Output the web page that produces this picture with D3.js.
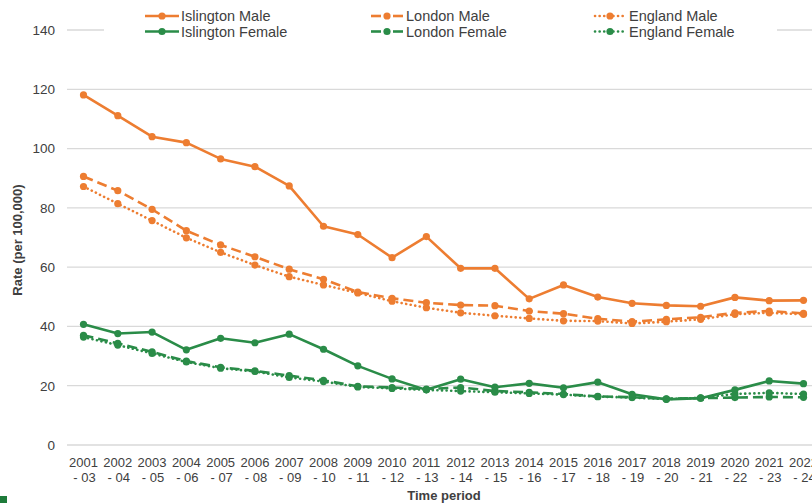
<!DOCTYPE html>
<html><head><meta charset="utf-8">
<script src="https://cdn.jsdelivr.net/npm/d3@7"></script>
<style>
html,body{margin:0;padding:0;background:#fff;overflow:hidden;width:812px;height:503px;}
text{font-family:"Liberation Sans",Arial,sans-serif;fill:#404040;}
</style></head>
<body>
<svg id="c" width="840" height="503"></svg>
<script>
const periodStart = ["2001","2002","2003","2004","2005","2006","2007","2008","2009","2010","2011","2012","2013","2014","2015","2016","2017","2018","2019","2020","2021","2022"];
const periodEnd = ["- 03","- 04","- 05","- 06","- 07","- 08","- 09","- 10","- 11","- 12","- 13","- 14","- 15","- 16","- 17","- 18","- 19","- 20","- 21","- 22","- 23","- 24"];
const yTicks = [0,20,40,60,80,100,120,140];

const islingtonMale = [118.1,111.1,104.0,102.0,96.5,93.9,87.4,73.8,71.0,63.2,70.3,59.6,59.6,49.3,54.0,49.9,47.8,47.1,46.8,49.8,48.7,48.8];
const londonMale = [90.6,85.8,79.5,72.3,67.5,63.5,59.3,55.9,51.6,49.5,48.0,47.2,47.0,45.2,44.3,42.6,41.6,42.4,43.1,44.6,45.2,44.4];
const englandMale = [87.2,81.4,75.7,69.9,65.0,60.7,56.8,54.0,51.3,48.5,46.3,44.6,43.6,42.7,41.9,41.8,41.0,41.6,42.4,44.1,44.6,44.1];
const islingtonFemale = [40.7,37.6,38.1,32.1,36.0,34.5,37.4,32.3,26.7,22.3,18.6,22.2,19.5,20.8,19.3,21.2,17.1,15.4,15.8,18.6,21.6,20.7];
const londonFemale = [37.0,34.3,31.4,28.3,26.2,25.0,23.4,21.8,19.8,19.4,18.9,19.4,18.2,17.8,17.2,16.4,16.1,15.6,15.8,16.0,16.2,16.1];
const englandFemale = [36.4,33.7,30.9,28.0,25.9,24.8,22.8,21.4,19.6,19.1,18.6,18.2,17.8,17.4,17.0,16.3,16.0,15.5,15.9,17.2,17.6,17.2];

const ORANGE = "#ED7D31", GREEN = "#2A8C48";
const series = [
  {name:"Islington Male", values:islingtonMale, color:ORANGE, style:"solid"},
  {name:"London Male", values:londonMale, color:ORANGE, style:"dash"},
  {name:"England Male", values:englandMale, color:ORANGE, style:"dot"},
  {name:"Islington Female", values:islingtonFemale, color:GREEN, style:"solid"},
  {name:"London Female", values:londonFemale, color:GREEN, style:"dash"},
  {name:"England Female", values:englandFemale, color:GREEN, style:"dot"}
];
const dash = {solid:null, dash:"10,5", dot:"0.1,4.5"};

const svg = d3.select("#c");
const x = d3.scalePoint().domain(periodStart).range([83.5, 803.5]);
const y = d3.scaleLinear().domain([0,140]).range([445, 30]);

// gridlines
svg.append("g").selectAll("line").data(yTicks).join("line")
  .attr("x1",67).attr("x2",840)
  .attr("y1",d=>y(d)).attr("y2",d=>y(d))
  .attr("stroke","#d9d9d9").attr("stroke-width",1.3);

// y tick labels
svg.append("g").selectAll("text").data(yTicks).join("text")
  .attr("x",55).attr("y",d=>y(d)).attr("dy","0.36em")
  .attr("text-anchor","end").style("font-size","13.5px").text(d=>d);

// x labels
const xl = svg.append("g").selectAll("text").data(periodStart).join("text")
  .attr("x",d=>x(d)).attr("y",467).attr("text-anchor","middle").style("font-size","13px");
xl.append("tspan").attr("x",d=>x(d)).text(d=>d);
xl.append("tspan").attr("x",(d)=>x(d)+1).attr("dy",15).text((d,i)=>periodEnd[i]);

// axis titles
svg.append("text").attr("x",444).attr("y",500).attr("text-anchor","middle")
  .style("font-size","13px").style("font-weight","bold").attr("fill","#262626").text("Time period");
svg.append("text").attr("transform","translate(22,240) rotate(-90)").attr("text-anchor","middle")
  .style("font-size","13px").style("font-weight","bold").text("Rate (per 100,000)");

// lines
const line = d3.line().x((d,i)=>x(periodStart[i])).y(d=>y(d));
const draw = [4,5,3,1,2,0];
draw.forEach(k=>{
  const s = series[k];
  const g = svg.append("g");
  g.append("path").datum(s.values).attr("d",line).attr("fill","none")
    .attr("stroke",s.color).attr("stroke-width",2.6)
    .attr("stroke-dasharray",dash[s.style])
    .attr("stroke-linecap",s.style==="dot"?"round":"butt")
    .attr("stroke-linejoin","round");
  g.selectAll("circle").data(s.values).join("circle")
    .attr("cx",(d,i)=>x(periodStart[i])).attr("cy",d=>y(d)).attr("r",3.6)
    .attr("fill",s.color);
});

// legend
const lg = svg.append("g");
lg.append("rect").attr("x",104).attr("y",6).attr("width",673).attr("height",36).attr("fill","#fff");
const cols = [145, 370, 593];
series.forEach((s,i)=>{
  const cx = cols[i%3], cy = i<3 ? 16 : 31.5;
  const item = lg.append("g");
  if(s.style==="solid"){
    item.append("line").attr("x1",cx).attr("x2",cx+34).attr("y1",cy).attr("y2",cy)
      .attr("stroke",s.color).attr("stroke-width",2.6);
  } else if(s.style==="dash"){
    item.append("line").attr("x1",cx+1).attr("x2",cx+11).attr("y1",cy).attr("y2",cy)
      .attr("stroke",s.color).attr("stroke-width",2.6);
    item.append("line").attr("x1",cx+23).attr("x2",cx+33).attr("y1",cy).attr("y2",cy)
      .attr("stroke",s.color).attr("stroke-width",2.6);
  } else {
    item.append("line").attr("x1",cx+2).attr("x2",cx+33).attr("y1",cy).attr("y2",cy)
      .attr("stroke",s.color).attr("stroke-width",2.6)
      .attr("stroke-dasharray",dash.dot).attr("stroke-linecap","round");
  }
  item.append("circle").attr("cx",cx+17).attr("cy",cy).attr("r",3.6).attr("fill",s.color);
  item.append("text").attr("x",cx+36).attr("y",cy).attr("dy","0.36em")
    .style("font-size","14.5px").text(s.name);
});

// small corner mark
svg.append("rect").attr("x",0).attr("y",496).attr("width",7).attr("height",7).attr("fill","#1E7B3A");
</script>
</body></html>
